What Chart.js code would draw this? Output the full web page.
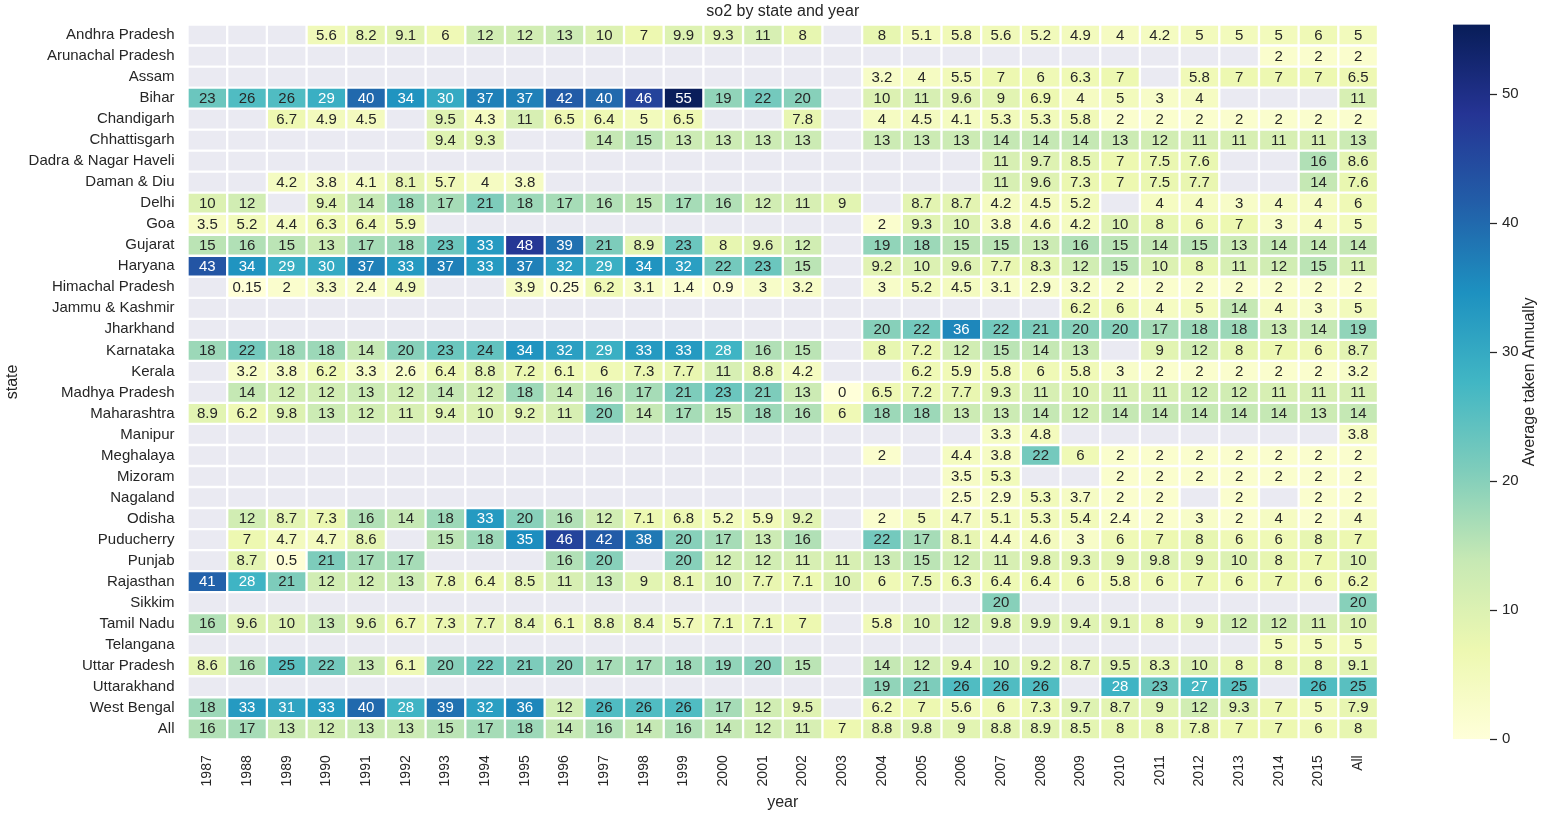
<!DOCTYPE html>
<html>
<head>
<meta charset="utf-8">
<title>so2 by state and year</title>
<script src="https://cdn.jsdelivr.net/npm/chart.js@4.4.0/dist/chart.umd.min.js"></script>
<style>
  html, body { margin: 0; padding: 0; background: #ffffff; overflow: hidden; }
  #wrap  { position: relative; width: 1555px; height: 817px; }
  #heat  { position: absolute; left: 0; top: 0; }
  #cbar  { position: absolute; left: 1440px; top: 0; }
</style>
</head>
<body>
<div id="wrap">
  <canvas id="heat" width="1555" height="817"></canvas>
  <canvas id="cbar" width="115" height="817"></canvas>
</div>
<script>
const NA = null;

const years = ['1987','1988','1989','1990','1991','1992','1993','1994','1995','1996',
               '1997','1998','1999','2000','2001','2002','2003','2004','2005','2006',
               '2007','2008','2009','2010','2011','2012','2013','2014','2015','All'];

const states = ['Andhra Pradesh','Arunachal Pradesh','Assam','Bihar','Chandigarh','Chhattisgarh',
                'Dadra & Nagar Haveli','Daman & Diu','Delhi','Goa','Gujarat','Haryana',
                'Himachal Pradesh','Jammu & Kashmir','Jharkhand','Karnataka','Kerala',
                'Madhya Pradesh','Maharashtra','Manipur','Meghalaya','Mizoram','Nagaland',
                'Odisha','Puducherry','Punjab','Rajasthan','Sikkim','Tamil Nadu','Telangana',
                'Uttar Pradesh','Uttarakhand','West Bengal','All'];

// one row per state, columns follow `years`
const andhraPradesh    = [NA,NA,NA,5.6,8.2,9.1,6,12,12,13,10,7,9.9,9.3,11,8,NA,8,5.1,5.8,5.6,5.2,4.9,4,4.2,5,5,5,6,5];
const arunachalPradesh = [NA,NA,NA,NA,NA,NA,NA,NA,NA,NA,NA,NA,NA,NA,NA,NA,NA,NA,NA,NA,NA,NA,NA,NA,NA,NA,NA,2,2,2];
const assam            = [NA,NA,NA,NA,NA,NA,NA,NA,NA,NA,NA,NA,NA,NA,NA,NA,NA,3.2,4,5.5,7,6,6.3,7,NA,5.8,7,7,7,6.5];
const bihar            = [23,26,26,29,40,34,30,37,37,42,40,46,55,19,22,20,NA,10,11,9.6,9,6.9,4,5,3,4,NA,NA,NA,11];
const chandigarh       = [NA,NA,6.7,4.9,4.5,NA,9.5,4.3,11,6.5,6.4,5,6.5,NA,NA,7.8,NA,4,4.5,4.1,5.3,5.3,5.8,2,2,2,2,2,2,2];
const chhattisgarh     = [NA,NA,NA,NA,NA,NA,9.4,9.3,NA,NA,14,15,13,13,13,13,NA,13,13,13,14,14,14,13,12,11,11,11,11,13];
const dadraNagarHaveli = [NA,NA,NA,NA,NA,NA,NA,NA,NA,NA,NA,NA,NA,NA,NA,NA,NA,NA,NA,NA,11,9.7,8.5,7,7.5,7.6,NA,NA,16,8.6];
const damanDiu         = [NA,NA,4.2,3.8,4.1,8.1,5.7,4,3.8,NA,NA,NA,NA,NA,NA,NA,NA,NA,NA,NA,11,9.6,7.3,7,7.5,7.7,NA,NA,14,7.6];
const delhi            = [10,12,NA,9.4,14,18,17,21,18,17,16,15,17,16,12,11,9,NA,8.7,8.7,4.2,4.5,5.2,NA,4,4,3,4,4,6];
const goa              = [3.5,5.2,4.4,6.3,6.4,5.9,NA,NA,NA,NA,NA,NA,NA,NA,NA,NA,NA,2,9.3,10,3.8,4.6,4.2,10,8,6,7,3,4,5];
const gujarat          = [15,16,15,13,17,18,23,33,48,39,21,8.9,23,8,9.6,12,NA,19,18,15,15,13,16,15,14,15,13,14,14,14];
const haryana          = [43,34,29,30,37,33,37,33,37,32,29,34,32,22,23,15,NA,9.2,10,9.6,7.7,8.3,12,15,10,8,11,12,15,11];
const himachalPradesh  = [NA,0.15,2,3.3,2.4,4.9,NA,NA,3.9,0.25,6.2,3.1,1.4,0.9,3,3.2,NA,3,5.2,4.5,3.1,2.9,3.2,2,2,2,2,2,2,2];
const jammuKashmir     = [NA,NA,NA,NA,NA,NA,NA,NA,NA,NA,NA,NA,NA,NA,NA,NA,NA,NA,NA,NA,NA,NA,6.2,6,4,5,14,4,3,5];
const jharkhand        = [NA,NA,NA,NA,NA,NA,NA,NA,NA,NA,NA,NA,NA,NA,NA,NA,NA,20,22,36,22,21,20,20,17,18,18,13,14,19];
const karnataka        = [18,22,18,18,14,20,23,24,34,32,29,33,33,28,16,15,NA,8,7.2,12,15,14,13,NA,9,12,8,7,6,8.7];
const kerala           = [NA,3.2,3.8,6.2,3.3,2.6,6.4,8.8,7.2,6.1,6,7.3,7.7,11,8.8,4.2,NA,NA,6.2,5.9,5.8,6,5.8,3,2,2,2,2,2,3.2];
const madhyaPradesh    = [NA,14,12,12,13,12,14,12,18,14,16,17,21,23,21,13,0,6.5,7.2,7.7,9.3,11,10,11,11,12,12,11,11,11];
const maharashtra      = [8.9,6.2,9.8,13,12,11,9.4,10,9.2,11,20,14,17,15,18,16,6,18,18,13,13,14,12,14,14,14,14,14,13,14];
const manipur          = [NA,NA,NA,NA,NA,NA,NA,NA,NA,NA,NA,NA,NA,NA,NA,NA,NA,NA,NA,NA,3.3,4.8,NA,NA,NA,NA,NA,NA,NA,3.8];
const meghalaya        = [NA,NA,NA,NA,NA,NA,NA,NA,NA,NA,NA,NA,NA,NA,NA,NA,NA,2,NA,4.4,3.8,22,6,2,2,2,2,2,2,2];
const mizoram          = [NA,NA,NA,NA,NA,NA,NA,NA,NA,NA,NA,NA,NA,NA,NA,NA,NA,NA,NA,3.5,5.3,NA,NA,2,2,2,2,2,2,2];
const nagaland         = [NA,NA,NA,NA,NA,NA,NA,NA,NA,NA,NA,NA,NA,NA,NA,NA,NA,NA,NA,2.5,2.9,5.3,3.7,2,2,NA,2,NA,2,2];
const odisha           = [NA,12,8.7,7.3,16,14,18,33,20,16,12,7.1,6.8,5.2,5.9,9.2,NA,2,5,4.7,5.1,5.3,5.4,2.4,2,3,2,4,2,4];
const puducherry       = [NA,7,4.7,4.7,8.6,NA,15,18,35,46,42,38,20,17,13,16,NA,22,17,8.1,4.4,4.6,3,6,7,8,6,6,8,7];
const punjab           = [NA,8.7,0.5,21,17,17,NA,NA,NA,16,20,NA,20,12,12,11,11,13,15,12,11,9.8,9.3,9,9.8,9,10,8,7,10];
const rajasthan        = [41,28,21,12,12,13,7.8,6.4,8.5,11,13,9,8.1,10,7.7,7.1,10,6,7.5,6.3,6.4,6.4,6,5.8,6,7,6,7,6,6.2];
const sikkim           = [NA,NA,NA,NA,NA,NA,NA,NA,NA,NA,NA,NA,NA,NA,NA,NA,NA,NA,NA,NA,20,NA,NA,NA,NA,NA,NA,NA,NA,20];
const tamilNadu        = [16,9.6,10,13,9.6,6.7,7.3,7.7,8.4,6.1,8.8,8.4,5.7,7.1,7.1,7,NA,5.8,10,12,9.8,9.9,9.4,9.1,8,9,12,12,11,10];
const telangana        = [NA,NA,NA,NA,NA,NA,NA,NA,NA,NA,NA,NA,NA,NA,NA,NA,NA,NA,NA,NA,NA,NA,NA,NA,NA,NA,NA,5,5,5];
const uttarPradesh     = [8.6,16,25,22,13,6.1,20,22,21,20,17,17,18,19,20,15,NA,14,12,9.4,10,9.2,8.7,9.5,8.3,10,8,8,8,9.1];
const uttarakhand      = [NA,NA,NA,NA,NA,NA,NA,NA,NA,NA,NA,NA,NA,NA,NA,NA,NA,19,21,26,26,26,NA,28,23,27,25,NA,26,25];
const westBengal       = [18,33,31,33,40,28,39,32,36,12,26,26,26,17,12,9.5,NA,6.2,7,5.6,6,7.3,9.7,8.7,9,12,9.3,7,5,7.9];
const allStates        = [16,17,13,12,13,13,15,17,18,14,16,14,16,14,12,11,7,8.8,9.8,9,8.8,8.9,8.5,8,8,7.8,7,7,6,8];

const rows = [andhraPradesh, arunachalPradesh, assam, bihar, chandigarh, chhattisgarh,
              dadraNagarHaveli, damanDiu, delhi, goa, gujarat, haryana, himachalPradesh,
              jammuKashmir, jharkhand, karnataka, kerala, madhyaPradesh, maharashtra, manipur,
              meghalaya, mizoram, nagaland, odisha, puducherry, punjab, rajasthan, sikkim,
              tamilNadu, telangana, uttarPradesh, uttarakhand, westBengal, allStates];

// colour scale
const colorMax      = 55.4;
const colorbarTicks = [0, 10, 20, 30, 40, 50];
const ylgnbu = ['#ffffd9','#edf8b1','#c7e9b4','#7fcdbb','#41b6c4','#1d91c0','#225ea8','#253494','#081d58'];

// plot box in page pixels
const PLOT = { left: 187.5, top: 24.5, right: 1378, bottom: 739.3 };
const INK  = '#262626';
const MISSING = '#eaeaf2';

Chart.defaults.font.family = '"Liberation Sans", Arial, sans-serif';
Chart.defaults.color = INK;

function hexRgb(h) {
  return [parseInt(h.slice(1, 3), 16), parseInt(h.slice(3, 5), 16), parseInt(h.slice(5, 7), 16)];
}

function rgbFor(v) {
  let t = Math.max(0, Math.min(1, v / colorMax)) * (ylgnbu.length - 1);
  const k = Math.min(Math.floor(t), ylgnbu.length - 2);
  const f = t - k;
  const a = hexRgb(ylgnbu[k]), b = hexRgb(ylgnbu[k + 1]);
  return a.map((c, i) => c + (b[i] - c) * f);
}

function cellColor(v) {
  if (v == null) return MISSING;
  const c = rgbFor(v);
  return 'rgb(' + c.map(Math.round).join(',') + ')';
}

// same rule seaborn uses for annotation colour
function textColor(v) {
  const lin = rgbFor(v).map(c => {
    c = c / 255;
    return c <= 0.03928 ? c / 12.92 : Math.pow((c + 0.055) / 1.055, 2.4);
  });
  const lum = 0.2126 * lin[0] + 0.7152 * lin[1] + 0.0722 * lin[2];
  return lum > 0.408 ? INK : '#ffffff';
}

const fmt = v => String(parseFloat(v.toPrecision(2)));

const cellLabels = {
  id: 'cellLabels',
  afterDatasetsDraw(chart) {
    const ctx = chart.ctx;
    ctx.save();
    ctx.font = '15px "Liberation Sans", Arial, sans-serif';
    ctx.textAlign = 'center';
    ctx.textBaseline = 'middle';
    chart.data.datasets.forEach((ds, i) => {
      chart.getDatasetMeta(i).data.forEach((bar, j) => {
        const v = rows[i][j];
        if (v == null) return;
        const p = bar.getProps(['x', 'y', 'base'], true);
        ctx.fillStyle = textColor(v);
        ctx.fillText(fmt(v), p.x, (p.y + p.base) / 2 + 0.5);
      });
    });
    ctx.restore();
  }
};

const heatTitle = {
  id: 'heatTitle',
  afterDraw(chart) {
    const { ctx, chartArea } = chart;
    ctx.save();
    ctx.font = '16px "Liberation Sans", Arial, sans-serif';
    ctx.fillStyle = INK;
    ctx.textAlign = 'center';
    ctx.textBaseline = 'middle';
    ctx.fillText('so2 by state and year', (chartArea.left + chartArea.right) / 2, 12);
    ctx.restore();
  }
};

new Chart(document.getElementById('heat'), {
  type: 'bar',
  data: {
    labels: years,
    datasets: rows.map((vals, i) => ({
      label: states[i],
      data: years.map(() => [i, i + 1]),
      backgroundColor: c => cellColor(vals[c.dataIndex]),
      borderColor: '#ffffff',
      borderWidth: 1.5,
      borderSkipped: false,
      grouped: false,
      barPercentage: 1,
      categoryPercentage: 1
    }))
  },
  options: {
    responsive: false,
    animation: false,
    events: [],
    layout: { padding: { left: 0, top: PLOT.top, right: 1555 - PLOT.right, bottom: 0 } },
    plugins: {
      legend: { display: false },
      tooltip: { enabled: false },
      title: { display: false }
    },
    scales: {
      x: {
        grid: { display: false, drawTicks: false },
        border: { display: false },
        ticks: { autoSkip: false, minRotation: 90, maxRotation: 90, padding: 16, font: { size: 14 }, color: INK },
        title: { display: true, text: 'year', font: { size: 16 }, color: INK, padding: { top: 0, bottom: 5 } },
        afterFit: axis => { axis.height = 817 - PLOT.bottom; }
      },
      y: {
        min: 0,
        max: states.length,
        reverse: true,
        grid: { display: false, drawTicks: false },
        border: { display: false },
        afterBuildTicks: axis => { axis.ticks = states.map((s, i) => ({ value: i + 0.5 })); },
        ticks: { autoSkip: false, padding: 13, font: { size: 15 }, color: INK, callback: (v, i) => states[i] },
        title: { display: true, text: 'state', font: { size: 16 }, color: INK, padding: { top: 3, bottom: 0 } },
        afterFit: axis => { axis.width = PLOT.left; }
      }
    }
  },
  plugins: [cellLabels, heatTitle]
});

// ---- colour bar ----
const CB_LEFT = 1440;

function colorbarGradient(chart) {
  if (!chart.chartArea) return MISSING;
  const y = chart.scales.y;
  const g = chart.ctx.createLinearGradient(0, y.getPixelForValue(0), 0, y.getPixelForValue(colorMax));
  ylgnbu.forEach((c, k) => g.addColorStop(k / (ylgnbu.length - 1), c));
  return g;
}

const colorbarLabel = {
  id: 'colorbarLabel',
  afterDraw(chart) {
    const { ctx, chartArea } = chart;
    ctx.save();
    ctx.translate(1530 - CB_LEFT, (chartArea.top + chartArea.bottom) / 2);
    ctx.rotate(-Math.PI / 2);
    ctx.font = '16px "Liberation Sans", Arial, sans-serif';
    ctx.fillStyle = INK;
    ctx.textAlign = 'center';
    ctx.textBaseline = 'middle';
    ctx.fillText('Average taken Annually', 0, 0);
    ctx.restore();
  }
};

new Chart(document.getElementById('cbar'), {
  type: 'bar',
  data: {
    labels: [''],
    datasets: [{
      data: [[0, colorMax]],
      backgroundColor: c => colorbarGradient(c.chart),
      borderWidth: 0,
      barPercentage: 1,
      categoryPercentage: 1
    }]
  },
  options: {
    responsive: false,
    animation: false,
    events: [],
    layout: { padding: { left: 1453 - CB_LEFT, top: PLOT.top, right: 0, bottom: 817 - PLOT.bottom } },
    plugins: { legend: { display: false }, tooltip: { enabled: false } },
    scales: {
      x: { display: false },
      y: {
        position: 'right',
        min: 0,
        max: colorMax,
        afterBuildTicks: axis => { axis.ticks = colorbarTicks.map(v => ({ value: v })); },
        grid: { drawOnChartArea: false, drawTicks: true, tickLength: 7, tickColor: INK, tickWidth: 1.25 },
        border: { display: false },
        ticks: { padding: 5, font: { size: 15 }, color: INK },
        afterFit: axis => { axis.width = 1555 - 1490; }
      }
    }
  },
  plugins: [colorbarLabel]
});
</script>
</body>
</html>
